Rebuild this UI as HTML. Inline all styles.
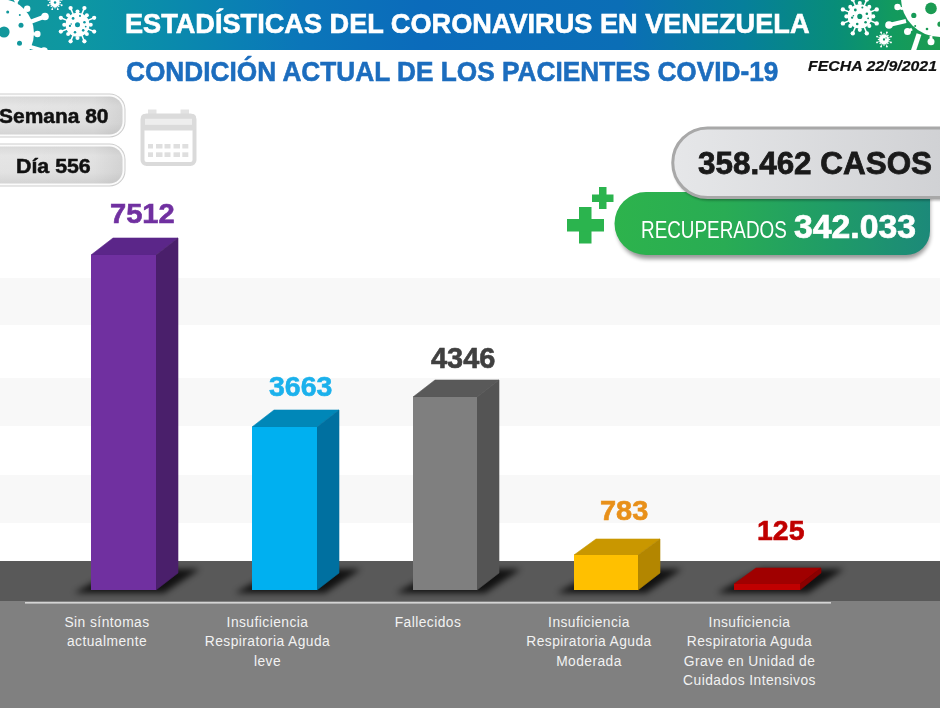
<!DOCTYPE html>
<html><head><meta charset="utf-8">
<style>
html,body{margin:0;padding:0;}
body{width:940px;height:708px;position:relative;overflow:hidden;background:#fff;font-family:"Liberation Sans",sans-serif;}
.t{position:absolute;white-space:nowrap;line-height:1;transform-origin:0 0;}
svg{position:absolute;left:0;top:0;}
.cat{position:absolute;top:612.5px;text-align:center;font-size:13.8px;line-height:19.5px;letter-spacing:0.45px;color:#f2f2f2;}
</style></head><body>
<svg width="940" height="708" viewBox="0 0 940 708">
<defs>
<linearGradient id="hdr" x1="0" y1="0" x2="940" y2="0" gradientUnits="userSpaceOnUse">
<stop offset="0" stop-color="#12979b"/>
<stop offset="0.085" stop-color="#0d97a2"/>
<stop offset="0.17" stop-color="#0a8cab"/>
<stop offset="0.255" stop-color="#0a80b4"/>
<stop offset="0.32" stop-color="#0b76b9"/>
<stop offset="0.45" stop-color="#0b6bbb"/>
<stop offset="0.66" stop-color="#0b6eb6"/>
<stop offset="0.79" stop-color="#067f9b"/>
<stop offset="0.89" stop-color="#088d78"/>
<stop offset="0.95" stop-color="#129a5e"/>
<stop offset="1" stop-color="#1d9b50"/>
</linearGradient>
<linearGradient id="pillv" x1="0" y1="0" x2="0" y2="1">
<stop offset="0" stop-color="#dadada"/>
<stop offset="0.25" stop-color="#e6e6e6"/>
<stop offset="0.7" stop-color="#e3e3e3"/>
<stop offset="1" stop-color="#d5d5d5"/>
</linearGradient>
<linearGradient id="pillh" x1="0" y1="0" x2="1" y2="0">
<stop offset="0" stop-color="#000" stop-opacity="0"/>
<stop offset="0.8" stop-color="#000" stop-opacity="0.02"/>
<stop offset="1" stop-color="#000" stop-opacity="0.08"/>
</linearGradient>
<linearGradient id="pillg" x1="0" y1="0" x2="1" y2="0">
<stop offset="0" stop-color="#ececec"/>
<stop offset="1" stop-color="#d4d4d4"/>
</linearGradient>
<linearGradient id="casos" x1="0" y1="0" x2="1" y2="0">
<stop offset="0" stop-color="#e6e7e9"/>
<stop offset="1" stop-color="#cfd0d3"/>
</linearGradient>
<linearGradient id="green" x1="614" y1="0" x2="930" y2="0" gradientUnits="userSpaceOnUse">
<stop offset="0" stop-color="#2db34c"/>
<stop offset="0.35" stop-color="#29ac54"/>
<stop offset="0.7" stop-color="#1f9b68"/>
<stop offset="1" stop-color="#1c8979"/>
</linearGradient>
<filter id="blur3" x="-50%" y="-50%" width="200%" height="200%"><feGaussianBlur stdDeviation="3"/></filter>
<filter id="blur2" x="-50%" y="-50%" width="200%" height="200%"><feGaussianBlur stdDeviation="2"/></filter>
<filter id="blur1" x="-50%" y="-50%" width="200%" height="200%"><feGaussianBlur stdDeviation="1"/></filter>
<g id="vir8">
<circle r="12.5"/>
</g>
</defs>
<!-- header -->
<rect x="0" y="0" width="940" height="50" fill="url(#hdr)"/>
<clipPath id="hclip"><rect x="0" y="0" width="940" height="50"/></clipPath>
<g clip-path="url(#hclip)">
<circle cx="77.50" cy="24.70" r="11.97" fill="#fff"/>
<line x1="86.81" y1="28.56" x2="94.15" y2="31.60" stroke="#fff" stroke-width="1.51"/>
<circle cx="94.15" cy="31.60" r="2.14" fill="#fff"/>
<line x1="81.36" y1="34.01" x2="84.40" y2="41.35" stroke="#fff" stroke-width="1.51"/>
<circle cx="84.40" cy="41.35" r="2.14" fill="#fff"/>
<line x1="73.64" y1="34.01" x2="70.60" y2="41.35" stroke="#fff" stroke-width="1.51"/>
<circle cx="70.60" cy="41.35" r="2.14" fill="#fff"/>
<line x1="68.19" y1="28.56" x2="60.85" y2="31.60" stroke="#fff" stroke-width="1.51"/>
<circle cx="60.85" cy="31.60" r="2.14" fill="#fff"/>
<line x1="68.19" y1="20.84" x2="60.85" y2="17.80" stroke="#fff" stroke-width="1.51"/>
<circle cx="60.85" cy="17.80" r="2.14" fill="#fff"/>
<line x1="73.64" y1="15.39" x2="70.60" y2="8.05" stroke="#fff" stroke-width="1.51"/>
<circle cx="70.60" cy="8.05" r="2.14" fill="#fff"/>
<line x1="81.36" y1="15.39" x2="84.40" y2="8.05" stroke="#fff" stroke-width="1.51"/>
<circle cx="84.40" cy="8.05" r="2.14" fill="#fff"/>
<line x1="86.81" y1="20.84" x2="94.15" y2="17.80" stroke="#fff" stroke-width="1.51"/>
<circle cx="94.15" cy="17.80" r="2.14" fill="#fff"/>
<circle cx="90.73" cy="24.70" r="2.02" fill="#fff"/>
<circle cx="86.86" cy="34.06" r="2.02" fill="#fff"/>
<circle cx="77.50" cy="37.93" r="2.02" fill="#fff"/>
<circle cx="68.14" cy="34.06" r="2.02" fill="#fff"/>
<circle cx="64.27" cy="24.70" r="2.02" fill="#fff"/>
<circle cx="68.14" cy="15.34" r="2.02" fill="#fff"/>
<circle cx="77.50" cy="11.47" r="2.02" fill="#fff"/>
<circle cx="86.86" cy="15.34" r="2.02" fill="#fff"/>
<circle cx="77.50" cy="24.70" r="2.52" fill="url(#hdr)"/>
<circle cx="73.09" cy="18.40" r="1.39" fill="url(#hdr)"/>
<circle cx="84.43" cy="22.18" r="1.26" fill="url(#hdr)"/>
<circle cx="69.94" cy="25.96" r="1.13" fill="url(#hdr)"/>
<circle cx="83.17" cy="30.37" r="1.26" fill="url(#hdr)"/>
<circle cx="74.98" cy="32.26" r="1.26" fill="url(#hdr)"/>
<circle cx="80.02" cy="15.88" r="1.01" fill="url(#hdr)"/>
<circle cx="71.20" cy="24.07" r="0.76" fill="url(#hdr)"/>
<circle cx="85.69" cy="26.59" r="0.88" fill="url(#hdr)"/>
<circle cx="55.00" cy="2.50" r="4.75" fill="#fff"/>
<line x1="58.70" y1="4.03" x2="61.70" y2="5.27" stroke="#fff" stroke-width="0.65"/>
<circle cx="61.70" cy="5.27" r="0.90" fill="#fff"/>
<line x1="56.53" y1="6.20" x2="57.77" y2="9.20" stroke="#fff" stroke-width="0.65"/>
<circle cx="57.77" cy="9.20" r="0.90" fill="#fff"/>
<line x1="53.47" y1="6.20" x2="52.23" y2="9.20" stroke="#fff" stroke-width="0.65"/>
<circle cx="52.23" cy="9.20" r="0.90" fill="#fff"/>
<line x1="51.30" y1="4.03" x2="48.30" y2="5.27" stroke="#fff" stroke-width="0.65"/>
<circle cx="48.30" cy="5.27" r="0.90" fill="#fff"/>
<line x1="51.30" y1="0.97" x2="48.30" y2="-0.27" stroke="#fff" stroke-width="0.65"/>
<circle cx="48.30" cy="-0.27" r="0.90" fill="#fff"/>
<line x1="53.47" y1="-1.20" x2="52.23" y2="-4.20" stroke="#fff" stroke-width="0.65"/>
<circle cx="52.23" cy="-4.20" r="0.90" fill="#fff"/>
<line x1="56.53" y1="-1.20" x2="57.77" y2="-4.20" stroke="#fff" stroke-width="0.65"/>
<circle cx="57.77" cy="-4.20" r="0.90" fill="#fff"/>
<line x1="58.70" y1="0.97" x2="61.70" y2="-0.27" stroke="#fff" stroke-width="0.65"/>
<circle cx="61.70" cy="-0.27" r="0.90" fill="#fff"/>
<circle cx="60.25" cy="2.50" r="0.80" fill="#fff"/>
<circle cx="58.71" cy="6.21" r="0.80" fill="#fff"/>
<circle cx="55.00" cy="7.75" r="0.80" fill="#fff"/>
<circle cx="51.29" cy="6.21" r="0.80" fill="#fff"/>
<circle cx="49.75" cy="2.50" r="0.80" fill="#fff"/>
<circle cx="51.29" cy="-1.21" r="0.80" fill="#fff"/>
<circle cx="55.00" cy="-2.75" r="0.80" fill="#fff"/>
<circle cx="58.71" cy="-1.21" r="0.80" fill="#fff"/>
<circle cx="55.00" cy="2.50" r="1.25" fill="url(#hdr)"/>
<circle cx="859.80" cy="16.40" r="12.16" fill="#fff"/>
<line x1="869.26" y1="20.32" x2="876.71" y2="23.40" stroke="#fff" stroke-width="1.54"/>
<circle cx="876.71" cy="23.40" r="2.18" fill="#fff"/>
<line x1="863.72" y1="25.86" x2="866.80" y2="33.31" stroke="#fff" stroke-width="1.54"/>
<circle cx="866.80" cy="33.31" r="2.18" fill="#fff"/>
<line x1="855.88" y1="25.86" x2="852.80" y2="33.31" stroke="#fff" stroke-width="1.54"/>
<circle cx="852.80" cy="33.31" r="2.18" fill="#fff"/>
<line x1="850.34" y1="20.32" x2="842.89" y2="23.40" stroke="#fff" stroke-width="1.54"/>
<circle cx="842.89" cy="23.40" r="2.18" fill="#fff"/>
<line x1="850.34" y1="12.48" x2="842.89" y2="9.40" stroke="#fff" stroke-width="1.54"/>
<circle cx="842.89" cy="9.40" r="2.18" fill="#fff"/>
<line x1="855.88" y1="6.94" x2="852.80" y2="-0.51" stroke="#fff" stroke-width="1.54"/>
<circle cx="852.80" cy="-0.51" r="2.18" fill="#fff"/>
<line x1="863.72" y1="6.94" x2="866.80" y2="-0.51" stroke="#fff" stroke-width="1.54"/>
<circle cx="866.80" cy="-0.51" r="2.18" fill="#fff"/>
<line x1="869.26" y1="12.48" x2="876.71" y2="9.40" stroke="#fff" stroke-width="1.54"/>
<circle cx="876.71" cy="9.40" r="2.18" fill="#fff"/>
<circle cx="873.24" cy="16.40" r="2.05" fill="#fff"/>
<circle cx="869.30" cy="25.90" r="2.05" fill="#fff"/>
<circle cx="859.80" cy="29.84" r="2.05" fill="#fff"/>
<circle cx="850.30" cy="25.90" r="2.05" fill="#fff"/>
<circle cx="846.36" cy="16.40" r="2.05" fill="#fff"/>
<circle cx="850.30" cy="6.90" r="2.05" fill="#fff"/>
<circle cx="859.80" cy="2.96" r="2.05" fill="#fff"/>
<circle cx="869.30" cy="6.90" r="2.05" fill="#fff"/>
<circle cx="859.80" cy="16.40" r="2.56" fill="url(#hdr)"/>
<circle cx="855.32" cy="10.00" r="1.41" fill="url(#hdr)"/>
<circle cx="866.84" cy="13.84" r="1.28" fill="url(#hdr)"/>
<circle cx="852.12" cy="17.68" r="1.15" fill="url(#hdr)"/>
<circle cx="865.56" cy="22.16" r="1.28" fill="url(#hdr)"/>
<circle cx="857.24" cy="24.08" r="1.28" fill="url(#hdr)"/>
<circle cx="862.36" cy="7.44" r="1.02" fill="url(#hdr)"/>
<circle cx="853.40" cy="15.76" r="0.77" fill="url(#hdr)"/>
<circle cx="868.12" cy="18.32" r="0.90" fill="url(#hdr)"/>
<circle cx="884.00" cy="39.50" r="4.94" fill="#fff"/>
<line x1="887.84" y1="41.09" x2="890.97" y2="42.39" stroke="#fff" stroke-width="0.68"/>
<circle cx="890.97" cy="42.39" r="0.94" fill="#fff"/>
<line x1="885.59" y1="43.34" x2="886.89" y2="46.47" stroke="#fff" stroke-width="0.68"/>
<circle cx="886.89" cy="46.47" r="0.94" fill="#fff"/>
<line x1="882.41" y1="43.34" x2="881.11" y2="46.47" stroke="#fff" stroke-width="0.68"/>
<circle cx="881.11" cy="46.47" r="0.94" fill="#fff"/>
<line x1="880.16" y1="41.09" x2="877.03" y2="42.39" stroke="#fff" stroke-width="0.68"/>
<circle cx="877.03" cy="42.39" r="0.94" fill="#fff"/>
<line x1="880.16" y1="37.91" x2="877.03" y2="36.61" stroke="#fff" stroke-width="0.68"/>
<circle cx="877.03" cy="36.61" r="0.94" fill="#fff"/>
<line x1="882.41" y1="35.66" x2="881.11" y2="32.53" stroke="#fff" stroke-width="0.68"/>
<circle cx="881.11" cy="32.53" r="0.94" fill="#fff"/>
<line x1="885.59" y1="35.66" x2="886.89" y2="32.53" stroke="#fff" stroke-width="0.68"/>
<circle cx="886.89" cy="32.53" r="0.94" fill="#fff"/>
<line x1="887.84" y1="37.91" x2="890.97" y2="36.61" stroke="#fff" stroke-width="0.68"/>
<circle cx="890.97" cy="36.61" r="0.94" fill="#fff"/>
<circle cx="889.46" cy="39.50" r="0.83" fill="#fff"/>
<circle cx="887.86" cy="43.36" r="0.83" fill="#fff"/>
<circle cx="884.00" cy="44.96" r="0.83" fill="#fff"/>
<circle cx="880.14" cy="43.36" r="0.83" fill="#fff"/>
<circle cx="878.54" cy="39.50" r="0.83" fill="#fff"/>
<circle cx="880.14" cy="35.64" r="0.83" fill="#fff"/>
<circle cx="884.00" cy="34.04" r="0.83" fill="#fff"/>
<circle cx="887.86" cy="35.64" r="0.83" fill="#fff"/>
<circle cx="884.00" cy="39.50" r="1.14" fill="url(#hdr)"/>
<circle cx="886.08" cy="37.94" r="0.62" fill="url(#hdr)"/>

<circle cx="0" cy="33" r="34" fill="#fff"/>
<line x1="16" y1="6" x2="16.5" y2="-1" stroke="#fff" stroke-width="3.2"/><circle cx="16.5" cy="-1" r="3" fill="#fff"/>
<line x1="2" y1="0" x2="2" y2="-2" stroke="#fff" stroke-width="3"/><circle cx="2" cy="-2" r="3" fill="#fff"/>
<line x1="22" y1="11" x2="27.2" y2="8.8" stroke="#fff" stroke-width="2.8"/><circle cx="27.2" cy="8.8" r="3.2" fill="#fff"/>
<line x1="30" y1="22" x2="45" y2="16.5" stroke="#fff" stroke-width="4"/><circle cx="45" cy="16.5" r="3.8" fill="#fff"/>
<line x1="32" y1="34" x2="37.4" y2="34" stroke="#fff" stroke-width="2.8"/><circle cx="37.4" cy="34" r="3.2" fill="#fff"/>
<line x1="27" y1="46" x2="44" y2="51" stroke="#fff" stroke-width="4"/><circle cx="44" cy="51" r="3.8" fill="#fff"/>
<circle cx="4" cy="32" r="5.6" fill="url(#hdr)"/>
<circle cx="7.7" cy="12" r="1.5" fill="url(#hdr)"/>
<circle cx="19.8" cy="15" r="1.0" fill="url(#hdr)"/>
<circle cx="21" cy="25.3" r="2.5" fill="url(#hdr)"/>
<circle cx="19.5" cy="43.3" r="2.5" fill="url(#hdr)"/>
<circle cx="940" cy="-2" r="39" fill="#fff"/>
<line x1="903" y1="9" x2="897.5" y2="7" stroke="#fff" stroke-width="2.8"/><circle cx="897.5" cy="7" r="3.2" fill="#fff"/>
<line x1="906" y1="21" x2="889" y2="25" stroke="#fff" stroke-width="4"/><circle cx="889" cy="25" r="3.8" fill="#fff"/>
<line x1="912" y1="29" x2="907.5" y2="31.6" stroke="#fff" stroke-width="2.8"/><circle cx="907.5" cy="31.6" r="3.5" fill="#fff"/>
<line x1="919" y1="34" x2="913" y2="52" stroke="#fff" stroke-width="5"/><circle cx="913" cy="52" r="2.5" fill="#fff"/>
<line x1="931" y1="36" x2="931" y2="41.8" stroke="#fff" stroke-width="2.8"/><circle cx="931" cy="41.8" r="3.5" fill="#fff"/>
<circle cx="931" cy="8.4" r="5.8" fill="url(#hdr)"/>
<circle cx="913.8" cy="15.4" r="2.6" fill="url(#hdr)"/>
<circle cx="915.2" cy="26" r="1.0" fill="url(#hdr)"/>
<circle cx="927" cy="29" r="1.3" fill="url(#hdr)"/>
<circle cx="940" cy="24.2" r="2.6" fill="url(#hdr)"/>

</g>

<!-- chart stripes -->
<rect x="0" y="278" width="940" height="47" fill="#f8f8f8"/>
<rect x="0" y="378" width="940" height="48" fill="#f8f8f8"/>
<rect x="0" y="475" width="940" height="48" fill="#f8f8f8"/>
<!-- floor -->
<rect x="0" y="561" width="940" height="40" fill="#595959"/>
<rect x="0" y="601" width="940" height="107" fill="#808080"/>
<rect x="25" y="602" width="806" height="1.6" fill="#d4d4d4"/>

<!-- shadows -->
<g fill="#000" opacity="0.8" filter="url(#blur3)">
<path d="M74 593 L164 593 L200 569 L118 569 Z"/>
<path d="M235 593 L325 593 L361 569 L279 569 Z"/>
<path d="M396 593 L485 593 L521 569 L440 569 Z"/>
<path d="M557 593 L646 593 L682 569 L601 569 Z"/>
<path d="M717 593 L808 593 L844 569 L761 569 Z"/>
</g>

<!-- bars -->
<g>
<polygon points="91,255 113,238 178,238 156,255" fill="#5b2689" stroke="#5b2689" stroke-width="0.6" stroke-linejoin="round"/>
<polygon points="156,255 178,238 178,573 156,590" fill="#4a1f6b" stroke="#4a1f6b" stroke-width="0.6" stroke-linejoin="round"/>
<rect x="91" y="255" width="65" height="335" fill="#7030a0"/>

<polygon points="252,427 274,410 339,410 317,427" fill="#0087b8" stroke="#0087b8" stroke-width="0.6" stroke-linejoin="round"/>
<polygon points="317,427 339,410 339,573 317,590" fill="#0070a0" stroke="#0070a0" stroke-width="0.6" stroke-linejoin="round"/>
<rect x="252" y="427" width="65" height="163" fill="#00b0f0"/>

<polygon points="413,397 435,380 499,380 477,397" fill="#595959" stroke="#595959" stroke-width="0.6" stroke-linejoin="round"/>
<polygon points="477,397 499,380 499,573 477,590" fill="#545454" stroke="#545454" stroke-width="0.6" stroke-linejoin="round"/>
<rect x="413" y="397" width="64" height="193" fill="#7f7f7f"/>

<polygon points="574,555 596,539 660,539 638,555" fill="#c99700" stroke="#c99700" stroke-width="0.6" stroke-linejoin="round"/>
<polygon points="638,555 660,539 660,573 638,590" fill="#b38600" stroke="#b38600" stroke-width="0.6" stroke-linejoin="round"/>
<rect x="574" y="555" width="64" height="35" fill="#ffc000"/>

<polygon points="734,584 756,568 821,568 800,584" fill="#a00000" stroke="#a00000" stroke-width="0.6" stroke-linejoin="round"/>
<polygon points="800,584 821,568 821,573 800,590" fill="#8a0000" stroke="#8a0000" stroke-width="0.6" stroke-linejoin="round"/>
<rect x="734" y="584" width="66" height="6" fill="#c00000"/>
</g>

<!-- pills left -->
<g>
<rect x="-20" y="93.5" width="145.5" height="44" rx="16" fill="#cdcdcd"/>
<rect x="-20" y="94.5" width="144.5" height="42" rx="15" fill="#fbfbfb"/>
<rect x="-20" y="96.5" width="142.5" height="38" rx="13" fill="url(#pillv)"/>
<rect x="-20" y="96.5" width="142.5" height="38" rx="13" fill="url(#pillh)"/>
<rect x="-20" y="143.5" width="145.5" height="43" rx="16" fill="#cdcdcd"/>
<rect x="-20" y="144.5" width="144.5" height="41" rx="15" fill="#fbfbfb"/>
<rect x="-20" y="146.5" width="142.5" height="37" rx="13" fill="url(#pillv)"/>
<rect x="-20" y="146.5" width="142.5" height="37" rx="13" fill="url(#pillh)"/>
</g>

<!-- calendar -->
<g opacity="0.95">
<rect x="148" y="109.5" width="8.5" height="6" fill="#e2e2e2"/>
<rect x="180.5" y="109.5" width="8.5" height="6" fill="#e2e2e2"/>
<rect x="142.5" y="115.5" width="52" height="48.5" rx="4" fill="none" stroke="#d9d9d9" stroke-width="4"/>
<rect x="141" y="114" width="55" height="16.5" rx="4" fill="#dadada"/>
<rect x="145" y="118.8" width="47" height="6" fill="#eeeeee"/>
<g fill="#dedede">
<rect x="148" y="144" width="5" height="4.5"/><rect x="156" y="144" width="6.5" height="4.5"/><rect x="164.5" y="144" width="6" height="4.5"/><rect x="173.5" y="144" width="6.5" height="4.5"/><rect x="182.3" y="144" width="6" height="4.5"/>
<rect x="148" y="152.3" width="5" height="4.7"/><rect x="156" y="152.3" width="6.5" height="4.7"/><rect x="164.5" y="152.3" width="6" height="4.7"/><rect x="173.5" y="152.3" width="6.5" height="4.7"/><rect x="182.3" y="152.3" width="6" height="4.7"/>
</g>
</g>

<!-- green pill shadow + pill -->
<path d="M648 197 H926 A4 4 0 0 1 930 201 V235 A24 24 0 0 1 906 259 H648 A31 31 0 0 1 617 228 A31 31 0 0 1 648 197 Z" fill="#000" opacity="0.4" filter="url(#blur2)"/>
<path d="M646 192 H926 A4 4 0 0 1 930 196 V231 A24 24 0 0 1 906 255 H646 A31.5 31.5 0 0 1 614.5 223.5 A31.5 31.5 0 0 1 646 192 Z" fill="url(#green)"/>

<!-- casos pill -->
<path d="M708 130 H960 V200.5 H708 A35 35 0 0 1 673 165 A35 35 0 0 1 708 130 Z" fill="#000" opacity="0.3" filter="url(#blur1)"/>
<path d="M707.5 128 H960 V197.5 H707.5 A34.75 34.75 0 0 1 672.75 162.75 A34.75 34.75 0 0 1 707.5 128 Z" fill="url(#casos)" stroke="#a8a8a8" stroke-width="3"/>

<!-- crosses -->
<g fill="#2bb44e">
<rect x="579" y="207" width="12.5" height="36.5"/>
<rect x="567" y="219" width="37" height="12.5"/>
<rect x="599" y="187" width="7.5" height="22"/>
<rect x="592" y="194.5" width="21.5" height="7.5"/>
</g>
</svg>

<!--TEXT-->
<div class="t" style="left:125.00px;top:10.05px;font-size:27.25px;font-weight:bold;font-style:normal;color:#fff;-webkit-text-stroke:0.6px #fff;transform:scaleX(0.9958)">ESTADÍSTICAS DEL CORONAVIRUS EN VENEZUELA</div>
<div class="t" style="left:126.20px;top:57.65px;font-size:28.07px;font-weight:bold;font-style:normal;color:#1c6dbe;-webkit-text-stroke:0.6px #1c6dbe;transform:scaleX(0.9347)">CONDICIÓN ACTUAL DE LOS PACIENTES COVID-19</div>
<div class="t" style="left:808.40px;top:58.62px;font-size:13.98px;font-weight:bold;font-style:italic;color:#111;-webkit-text-stroke:0.2px #111;transform:scaleX(1.1349)">FECHA 22/9/2021</div>
<div class="t" style="left:-1.00px;top:105.62px;font-size:20.80px;font-weight:bold;font-style:normal;color:#111;-webkit-text-stroke:0.5px #111;transform:scaleX(1.0076)">Semana 80</div>
<div class="t" style="left:16.40px;top:156.01px;font-size:20.06px;font-weight:bold;font-style:normal;color:#111;-webkit-text-stroke:0.5px #111;transform:scaleX(1.0643)">Día 556</div>
<div class="t" style="left:698.00px;top:146.50px;font-size:32.11px;font-weight:bold;font-style:normal;color:#1a1a1a;-webkit-text-stroke:0.8px #1a1a1a;transform:scaleX(0.9787)">358.462 CASOS</div>
<div class="t" style="left:641.00px;top:219.39px;font-size:23.63px;font-weight:normal;font-style:normal;color:#fff;transform:scaleX(0.7992)">RECUPERADOS</div>
<div class="t" style="left:794.00px;top:210.70px;font-size:32.47px;font-weight:bold;font-style:normal;color:#fff;-webkit-text-stroke:0.7px #fff;transform:scaleX(1.0404)">342.033</div>
<div class="t" style="left:110.00px;top:200.46px;font-size:27.34px;font-weight:bold;font-style:normal;color:#7030a0;-webkit-text-stroke:0.6px #7030a0;transform:scaleX(1.0632)">7512</div>
<div class="t" style="left:268.55px;top:372.09px;font-size:28.41px;font-weight:bold;font-style:normal;color:#1bb1ec;-webkit-text-stroke:0.6px #1bb1ec;transform:scaleX(1.0016)">3663</div>
<div class="t" style="left:431.00px;top:344.01px;font-size:28.77px;font-weight:bold;font-style:normal;color:#404040;-webkit-text-stroke:0.6px #404040;transform:scaleX(1.0055)">4346</div>
<div class="t" style="left:599.80px;top:496.95px;font-size:28.07px;font-weight:bold;font-style:normal;color:#e8901a;-webkit-text-stroke:0.6px #e8901a;transform:scaleX(1.0312)">783</div>
<div class="t" style="left:756.60px;top:517.21px;font-size:27.69px;font-weight:bold;font-style:normal;color:#c00000;-webkit-text-stroke:0.6px #c00000;transform:scaleX(1.0272)">125</div>
<!--/TEXT-->
<div class="cat" style="left:7px;width:200px">Sin síntomas<br>actualmente</div>
<div class="cat" style="left:167.5px;width:200px">Insuficiencia<br>Respiratoria Aguda<br>leve</div>
<div class="cat" style="left:328px;width:200px">Fallecidos</div>
<div class="cat" style="left:489px;width:200px">Insuficiencia<br>Respiratoria Aguda<br>Moderada</div>
<div class="cat" style="left:649.5px;width:200px">Insuficiencia<br>Respiratoria Aguda<br>Grave en Unidad de<br>Cuidados Intensivos</div>
</body></html>
